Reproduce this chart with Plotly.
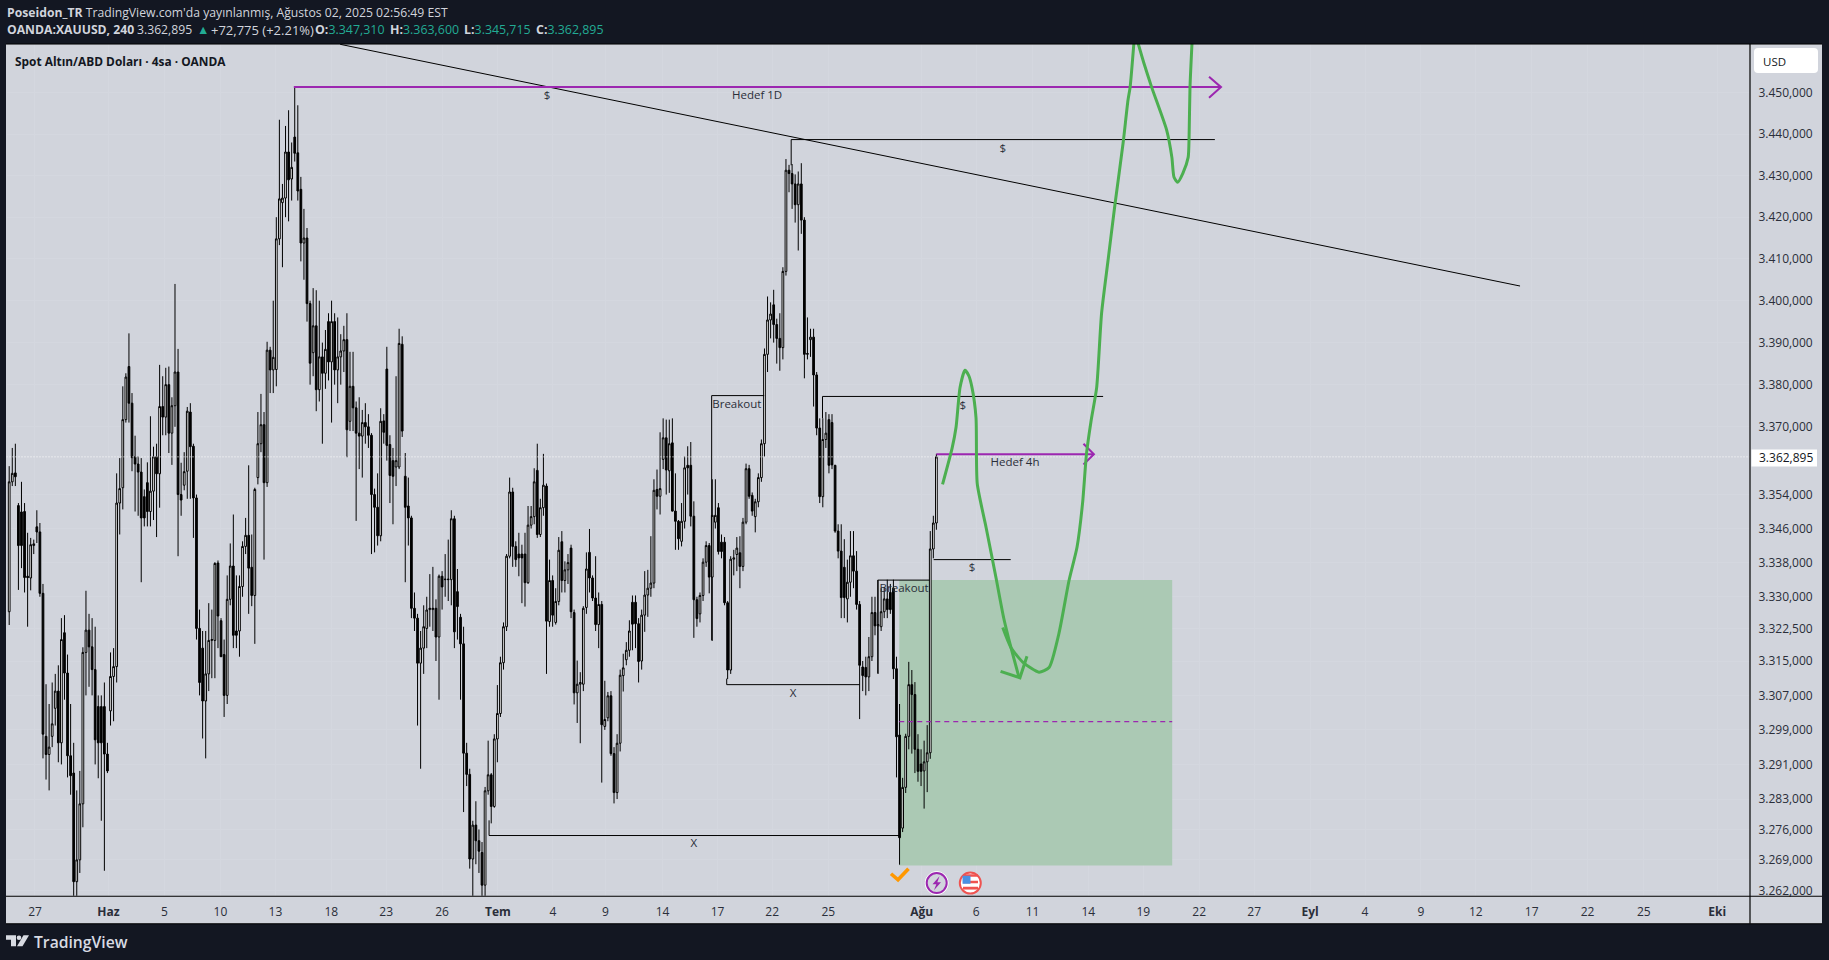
import plotly.graph_objects as go

W, H = 1829, 960
Y_FIX = 1.004

opens = [3326.5,3357,3359.1,3351.4,3349.9,3350,3334.8,3334.4,3342,3346.4,
3345.2,3330.8,3297.5,3293.3,3297.5,3304,3308,3296,3321.6,3312.2,
3293,3289,3264,3269,3281.9,3317,3322.2,3318.3,3313,3304.4,
3304.4,3304.4,3293.4,3303.4,3311.4,3313.7,3352,3355.6,3371.7,3384.3,
3375.6,3362.9,3361.2,3359.3,3353.5,3356.8,3350,3354.8,3362.9,3358.9,
3374.8,3372.3,3380,3368.5,3375,3383,3354,3356.2,3359.5,3373.5,
3365.4,3353.2,3322.6,3318,3305.7,3312,3319.8,3319.8,3337.9,3324.4,
3316.5,3307,3329.4,3337.2,3322,3322,3332.4,3341.8,3344.4,3336.9,
3330.3,3358,3366,3370.5,3356.8,3388.2,3383.5,3383.6,3414.8,3423.5,
3424.6,3435.7,3429.2,3439.3,3435.5,3426.7,3413.8,3415,3399.3,3387.6,
3394,3378.8,3386.6,3382.7,3395,3385.4,3395,3383.5,3386.6,3388,
3390.7,3371.3,3379.6,3374.5,3368.5,3367.8,3371,3370,3368,3354,
3351,3344.3,3371.4,3383.7,3365.8,3362,3360.5,3360.5,3389.6,3358.3,
3351.3,3348.5,3327.3,3325,3314.5,3318,3322.6,3327,3327,3327.3,
3320.6,3334.8,3334,3334,3334,3348.3,3331.2,3325.2,3319,3293.6,
3288.7,3269.2,3277,3273.4,3270.7,3263.2,3284.9,3288.6,3281.3,3296.9,
3302.8,3314.6,3323,3339.5,3354.6,3341.8,3340,3340,3340,3333.3,
3346.8,3348.8,3359.7,3344.6,3350.9,3356,3324.2,3333.8,3324,3328.9,
3342.9,3333.8,3336.3,3341.4,3326.3,3307.6,3309.6,3309.6,3327.5,3340.4,
3334.4,3329.7,3323.5,3328.2,3299.8,3301.8,3306.9,3293.5,3284.5,3295.9,
3311.6,3315.3,3317.5,3328.7,3328.7,3323.7,3315,3325.7,3330.4,3332,
3333.2,3355.2,3353.6,3362.3,3367.4,3359.6,3366.2,3350.1,3347.7,3343,
3347.7,3360.9,3360.9,3348.9,3329.3,3326,3330.3,3338.1,3342,3334.6,
3347.5,3350.9,3342.8,3342.8,3328.6,3312.9,3338.8,3339.9,3340.3,3337.1,
3347.5,3360.1,3353.8,3348.8,3352.3,3358,3366,3387.2,3395.4,3399,
3394.3,3391,3388.8,3407,3431.3,3430.5,3428,3423,3428,3419.3,
3387.2,3390.7,3391.3,3382.3,3369.7,3353.5,3367,3371.7,3371,3360.9,
3345.4,3340.7,3336.9,3329.5,3333.4,3339.6,3336,3328.2,3313.6,3313.5,
3311.3,3316,3326.3,3323.2,3323,3326.5,3329.5,3331,3332,3313.2,
3297.8,3276.3,3285.7,3297.5,3309.5,3307.2,3294.5,3291.1,3289.5,3291.6,3293.7,3341.2,3347.31]

highs = [3360.7,3365,3366,3352,3357,3352,3345,3343.8,3343.4,3350.3,
3347.3,3333,3309.6,3305,3310,3312,3314,3325,3325.7,3316.5,
3305,3296,3285,3289.5,3318.2,3331.4,3326,3325,3323,3307,
3307,3310,3296,3317,3318,3359,3362.6,3379.6,3382.7,3392.2,
3378,3367.9,3363,3362.6,3355.2,3361.6,3372.5,3365.3,3366,3384.7,
3382,3384,3384.3,3377,3404,3388.5,3361.5,3364,3374.7,3375.6,
3366,3354,3327,3322,3322,3328.5,3327,3338.1,3338.5,3325,
3320,3335,3342.5,3349.3,3335,3335,3343,3348.5,3360.9,3344.6,
3355.6,3373.5,3377.8,3373.5,3390.2,3389,3400,3420,3443.5,3428,
3442,3445.8,3438,3451.4,3447,3429.7,3422,3417.4,3400,3403,
3402.5,3400,3390,3393,3397,3400,3397,3396,3392,3394,
3397,3387.8,3387.8,3376,3377,3374,3375.6,3373,3368.5,3355.4,
3359,3374.4,3373,3389,3368,3365,3382,3393.3,3391.5,3363.8,
3358,3349,3331,3326,3322,3328,3330,3335.3,3337,3329.4,
3335.2,3336,3340,3343.4,3350.3,3349,3336.5,3326,3323,3296,
3290,3278,3282.5,3276,3273.1,3285.8,3296.5,3289,3298,3309.4,
3316,3324,3340,3358,3355.6,3343,3345,3342.2,3345,3351.3,
3351.3,3360.2,3366,3353,3363.6,3356.6,3338.7,3335,3332,3344,
3345.4,3338.3,3340,3342.2,3327,3315.1,3312.4,3327.8,3340.4,3345.9,
3335,3339.5,3331,3329,3310.4,3307.8,3308,3295,3298,3313,
3316.7,3319.4,3324.5,3330.3,3330.3,3325,3327,3336,3336.3,3344.2,
3357.6,3359.9,3368.7,3372,3371.7,3371.7,3372,3359,3348,3352,
3363,3365.4,3366.4,3352.4,3330,3331,3339,3343,3342.6,3357.6,
3357.6,3352,3344.6,3344,3329,3339.5,3341,3344,3344.2,3348.5,
3361.3,3361,3354.5,3353,3359,3367,3388.6,3401,3399.6,3402.6,
3395.7,3397,3408,3434,3432.6,3432.8,3430.3,3431,3433,3420,
3396,3393.3,3393.3,3383,3372,3372,3373.5,3373,3373,3361,
3347,3347,3343.5,3338.7,3345.4,3345.4,3340.7,3329,3315,3316,
3320.6,3330,3330,3333.9,3332,3332.3,3334,3333,3334,3316,
3305,3287.9,3298.1,3314.8,3312.9,3310.1,3298,3294.5,3296.5,3300.1,3345.4,3349,3363.6]

lows = [3323.4,3356,3356,3331.6,3336.7,3331,3323,3331.5,3340,3342.6,
3330,3292.4,3287.5,3285,3295,3300,3291.5,3291,3306,3288,
3284,3258,3258,3266,3276.5,3307,3309,3307,3291,3287.8,
3278,3266.5,3289,3300,3301,3310,3344.6,3350.5,3371,3371,
3359.5,3350,3349,3333.4,3346.5,3346.5,3346.5,3348,3344,3350.9,
3368,3368,3363.8,3361,3370,3339.5,3349,3355,3353,3353,
3343.8,3320,3307,3297,3292.4,3308,3311,3311,3318,3316,
3302,3305,3328,3318,3318,3316,3330,3340,3326,3327.8,
3319,3356.4,3364,3338.7,3355.8,3378,3378,3379.6,3413.3,3408,
3420,3419,3424,3433.4,3424,3409.4,3405,3395,3380,3382,
3373.7,3376,3366,3379,3381,3371,3380,3375.6,3380,3383,
3362.8,3369,3369,3347.8,3360,3358,3366,3365,3340,3340.4,
3342,3343,3366,3362,3352,3347,3356,3360,3367.6,3333.4,
3342,3325,3322,3300,3290,3312,3318,3323,3322,3315,
3306,3327,3330,3329,3328,3318,3320,3306,3280,3286,
3267,3259,3268,3266,3259,3259,3284,3277.4,3281,3291.5,
3302,3313,3322,3339,3337,3337,3334.8,3328.5,3327.7,3333,
3346,3347,3343.8,3344,3349,3312,3323,3323,3323.5,3328,
3331,3331,3333,3325,3304.9,3300.6,3295.9,3308,3326,3331,
3329,3322,3318,3286.8,3299,3301,3293,3282,3283,3294,
3307.9,3314,3316,3317.5,3318,3310,3313,3321.8,3325.3,3330,
3332,3350.5,3349.3,3360,3354,3354.4,3350,3341,3341,3341.8,
3346,3354,3346.5,3320.4,3323,3324,3329,3337,3330.8,3319.7,
3346,3339.9,3339,3328,3310.8,3312,3335,3336,3332,3336,
3347,3353,3349,3345.1,3351,3357,3363,3383,3391,3390,
3385,3383.3,3386,3406,3426,3422,3418.7,3412,3416,3381.5,
3386,3386.6,3374.8,3368,3352,3351,3365,3359,3360,3345,
3339,3325,3325,3324,3330,3332,3327,3301.5,3308,3307,
3308,3315,3321,3312,3322,3325,3325,3326,3310.8,3288,
3267.9,3275.4,3284.4,3294.5,3293.5,3289,3287,3286,3280.8,3284.6,3292.3,3339,3345.715]

closes = [3357,3359,3358.2,3342,3342,3334.5,3334.5,3342.2,3342.4,3345.2,
3330.8,3298,3293.3,3295,3300.4,3308,3296,3320,3312.2,3293,
3288.4,3264,3269,3281.9,3317,3322.2,3318.3,3313,3296.7,3296,
3296,3293.4,3289.5,3311.4,3313.7,3352,3355.4,3371.7,3381.8,3375.6,
3362.7,3361.2,3359.3,3348.5,3348.5,3350,3354.8,3362.9,3358.9,3374.8,
3372.3,3380,3368.5,3375,3383,3354,3352.7,3359.4,3373.7,3365.3,
3353.2,3322.6,3310,3305.7,3312,3319.8,3320,3337.8,3325.5,3316,
3307,3329.4,3337.2,3321,3321,3332.4,3341.8,3344.4,3336.7,3330.3,
3355.2,3366,3370.5,3356.8,3388.2,3383.5,3386.5,3414.8,3424.4,3424.6,
3435.7,3429,3432,3435.4,3426.3,3413.8,3415,3399.3,3385.1,3394,
3378.8,3386.6,3382.7,3388.4,3385.4,3395,3383.5,3386.6,3388,3390.7,
3369.3,3379.6,3374.5,3368.5,3367.8,3371,3370,3368,3354,3351,
3344.3,3371.3,3368.7,3365.6,3358.5,3358.3,3362,3389.8,3369,3351,
3348.5,3327.3,3325,3314.5,3318,3323,3326.9,3327.3,3327.3,3320.6,
3334.8,3332.3,3334.1,3334.1,3348.3,3321.8,3327.7,3319,3293.6,3288.7,
3269.2,3277,3273.4,3271,3263.2,3284.9,3288.6,3281.3,3296.9,3302.8,
3314.6,3323,3339.5,3354.6,3341.8,3338.7,3339.1,3339.1,3333.3,3346.8,
3348.8,3357,3344.6,3350.9,3356.2,3324.3,3333.8,3325.7,3328.9,3340.9,
3333.8,3336.3,3338,3326.5,3307.6,3309.6,3310,3327.3,3336.5,3334.4,
3329.7,3323.5,3328.2,3300.2,3301.4,3306.9,3293.5,3284.5,3295.9,3311.7,
3313.4,3317.5,3322,3323.6,3323.7,3314.9,3325.7,3330.4,3332,3333.2,
3355,3353.6,3355.4,3367.4,3359.8,3366,3350.1,3347.7,3343.6,3347.7,
3360.3,3360.3,3348.9,3329.3,3324.9,3330.3,3338.1,3342,3334.6,3349.1,
3349.1,3340.6,3340.6,3328.6,3312.9,3338.8,3339.1,3341.4,3337.1,3347.5,
3360.1,3353.6,3350.1,3352.3,3358,3366,3387.2,3395.4,3396.8,3394.3,
3391,3388.8,3407,3431.3,3430.5,3428,3423,3428,3419.3,3387.2,
3387.4,3391.3,3382.3,3369.7,3353.5,3367,3368.5,3360.9,3361,3345.4,
3340.7,3329.8,3329.8,3333.4,3339.6,3336,3328.2,3314,3311.6,3311.3,
3316,3326.3,3323.2,3323.5,3326.5,3329.5,3327,3327,3313.2,3297.4,
3274.1,3285.7,3297.5,3309.5,3307.2,3294.5,3289.4,3289.4,3291.6,3293.7,3341.2,3347.3,3362.895]

assert len(opens) == len(highs) == len(lows) == len(closes), (len(opens), len(highs), len(lows), len(closes))

x_tick_vals = [9.4,33.3,51.6,69.8,87.7,105.9,123.8,142,160.2,178.1,195.2,213.8,231.7,249.5,267.8,
               298.2,316,334.3,352.5,370.4,388.6,406.5,424.7,442.6,460.8,478.7,496.9,515.1,533.4,557.3]
x_tick_text = ["27","<b>Haz</b>","5","10","13","18","23","26","<b>Tem</b>","4","9","14","17","22","25",
               "<b>Ağu</b>","6","11","14","19","22","27","<b>Eyl</b>","4","9","12","17","22","25","<b>Eki</b>"]
y_tick_vals = [3450,3440,3430,3420,3410,3400,3390,3380,3370,3354,3346,3338,3330,3322.5,3315,3307,3299,3291,3283,3276,3269,3262]
y_tick_text = ["3.450,000","3.440,000","3.430,000","3.420,000","3.410,000","3.400,000","3.390,000","3.380,000",
               "3.370,000","3.354,000","3.346,000","3.338,000","3.330,000","3.322,500","3.315,000","3.307,000",
               "3.299,000","3.291,000","3.283,000","3.276,000","3.269,000","3.262,000"]

last_price = 3362.895
trend_x, trend_p = [108.8, 493.1], [3461.8, 3403.5]
target1_x, target1_p = [93.7, 395.7], [3451.4, 3451.4]
target1_head_x, target1_head_p = [391.8, 395.7, 391.8], [3453.9, 3451.4, 3448.8]
target4_x, target4_p = [303, 354.3], [3363.5, 3363.5]
target4_head_x, target4_head_p = [350.9, 354.3, 350.9], [3366, 3363.5, 3361.1]
level2_x, level2_p = [255.7, 255.7, 393.7], [3432.5, 3438.7, 3438.7]
level3_x, level3_p = [265.9, 265.9, 357.3], [3372, 3377.2, 3377.2]
breakout1_x, breakout1_p = [229.8, 229.8, 246.9], [3319.8, 3377.4, 3377.4]
breakout2_x, breakout2_p = [283.9, 283.9, 300.8], [3312.1, 3333.9, 3333.9]
low1_x, low1_p = [234.7, 234.7, 278], [3310.9, 3309.5, 3309.5]
low2_x, low2_p = [157.3, 157.3, 290.9], [3278.1, 3274.6, 3274.6]
level4_x, level4_p = [302.1, 327.2], [3338.7, 3338.7]
zone_x = [290.9, 379.8]
zone_p = [3267.7, 3333.9]
zone_mid = 3300.9

pen1_x = [305,308.1,309.4,310.7,312.3,313.5,314.6,315.9,316.3,319.2,322.4,324.9,327.3,329.9]
pen1_p = [3356.4,3364.9,3369.9,3379.3,3383.4,3382.2,3379.3,3372.2,3356.6,3346.2,3334.5,3325.1,3318.1,3311.2]
pen2_x = [323.9,330.2,332.5]
pen2_p = [3312.6,3311.1,3316.1]
pen3_x = [324.6,327.3,331.2,336.4,339.7,342.9,346.2,348.8,350.6,351.9,353.4,355.2,356.8,358.9,361.2,363.8,365.4,366.1,367.4]
pen3_p = [3322.8,3318.1,3314.7,3312.4,3313.5,3321.4,3333.8,3341.6,3351.9,3363.7,3371.5,3379.3,3397,3409.6,3423.3,3437.8,3448.2,3451.4,3462.8]
pen4_x = [368.4,370.6,373.1,378,379.7,380.4,381.6,383.3,385,385.3,385.6,386.3]
pen4_p = [3462.8,3457.2,3451.4,3441,3434.4,3429.6,3428.4,3430.6,3434.4,3439.3,3451.4,3462.8]

label_text = ["$","Hedef 1D","$","$","Breakout","X","X","Breakout","$","Hedef 4h"]
label_x = [176.2,244.6,324.6,311.6,238,256.3,224,292.5,314.6,328.6]
label_p = [3449.2,3449.2,3436.5,3375,3375.2,3307.4,3272.7,3331.9,3336.6,3361.4]

BG = "#131722"
PANEL = "#d1d4dc"
INK = "#131722"
PURPLE = "#9c27b0"
GREEN = "#4caf50"
FONT = "Open Sans"

def fx(px):
    return px / W

def fy(py):
    return 1 - py * Y_FIX / H

n = len(opens)
bar_index = list(range(304 - n, 304))

fig = go.Figure()
fig.add_trace(go.Candlestick(
    x=bar_index, open=opens, high=highs, low=lows, close=closes,
    increasing=dict(line=dict(color="#000000", width=1), fillcolor="#ffffff"),
    decreasing=dict(line=dict(color="#000000", width=1), fillcolor="#000000"),
    whiskerwidth=0, hoverinfo="skip", showlegend=False))

def line(x, y, color="#000000", width=1, dash=None, shape=None):
    fig.add_trace(go.Scatter(
        x=x, y=y, mode="lines", hoverinfo="skip", showlegend=False,
        line=dict(color=color, width=width, dash=dash, shape=shape, smoothing=0.6 if shape else None)))

line([0.12, 568], [last_price, last_price], color="#ffffff", width=1, dash="1px 2px")
line(trend_x, trend_p)
for lx, lp in [(level2_x, level2_p), (level3_x, level3_p), (breakout1_x, breakout1_p),
               (breakout2_x, breakout2_p), (low1_x, low1_p), (low2_x, low2_p), (level4_x, level4_p)]:
    line(lx, lp)
line(zone_x, [zone_mid, zone_mid], color=PURPLE, width=1.2, dash="5px 4px")
line(target1_x, target1_p, color=PURPLE, width=2)
line(target1_head_x, target1_head_p, color=PURPLE, width=2)
line(target4_x, target4_p, color=PURPLE, width=2)
line(target4_head_x, target4_head_p, color=PURPLE, width=2)
for gx, gp in [(pen1_x, pen1_p), (pen2_x, pen2_p), (pen3_x, pen3_p), (pen4_x, pen4_p)]:
    line(gx, gp, color=GREEN, width=3, shape="spline" if len(gx) > 3 else None)

fig.add_trace(go.Scatter(
    x=label_x, y=label_p, text=label_text, mode="text", hoverinfo="skip", showlegend=False,
    textfont=dict(family=FONT, size=11.5, color="#2a2e39"), textposition="middle center"))

shapes = [
    dict(type="rect", xref="paper", yref="paper", x0=fx(6), x1=fx(1822), y0=fy(923), y1=fy(44),
         fillcolor=PANEL, line_width=0, layer="below"),
    dict(type="rect", xref="x", yref="y", x0=zone_x[0], x1=zone_x[1], y0=zone_p[0], y1=zone_p[1],
         fillcolor="#abc9b4", line_width=0, layer="between"),
    dict(type="line", xref="paper", yref="paper", x0=fx(6), x1=fx(1822), y0=fy(895.5), y1=fy(895.5),
         line=dict(color="#000000", width=1.2)),
    dict(type="line", xref="paper", yref="paper", x0=fx(1750), x1=fx(1750), y0=fy(923), y1=fy(44),
         line=dict(color="#000000", width=1.2)),
    dict(type="line", xref="paper", yref="paper", x0=fx(6), x1=fx(1822), y0=fy(44), y1=fy(44),
         line=dict(color="#000000", width=1)),
    dict(type="line", xref="paper", yref="paper", x0=fx(6), x1=fx(1822), y0=fy(923), y1=fy(923),
         line=dict(color="#000000", width=1)),
    dict(type="rect", xref="paper", yref="paper", x0=fx(1751.5), x1=fx(1817), y0=fy(466), y1=fy(449),
         fillcolor="#ffffff", line_width=0),
]

def path(points, close=True):
    d = "M " + " L ".join(f"{fx(x):.5f},{fy(y):.5f}" for x, y in points)
    return d + (" Z" if close else "")

def rounded(x0, y0, x1, y1, r):
    return ("M %.5f,%.5f L %.5f,%.5f Q %.5f,%.5f %.5f,%.5f L %.5f,%.5f Q %.5f,%.5f %.5f,%.5f "
            "L %.5f,%.5f Q %.5f,%.5f %.5f,%.5f L %.5f,%.5f Q %.5f,%.5f %.5f,%.5f Z") % (
        fx(x0 + r), fy(y0), fx(x1 - r), fy(y0), fx(x1), fy(y0), fx(x1), fy(y0 + r),
        fx(x1), fy(y1 - r), fx(x1), fy(y1), fx(x1 - r), fy(y1),
        fx(x0 + r), fy(y1), fx(x0), fy(y1), fx(x0), fy(y1 - r),
        fx(x0), fy(y0 + r), fx(x0), fy(y0), fx(x0 + r), fy(y0))

shapes.append(dict(type="path", xref="paper", yref="paper", path=rounded(1754, 48, 1818, 73, 4),
                   fillcolor="#ffffff", line_width=0))
shapes.append(dict(type="path", xref="paper", yref="paper",
                   path=path([(891, 873), (898, 879), (908.5, 868)], close=False),
                   line=dict(color="#ff9800", width=3.6), fillcolor="rgba(0,0,0,0)"))

def circle(cx, cy, r, fill, color, w):
    return dict(type="circle", xref="paper", yref="paper", x0=fx(cx - r), x1=fx(cx + r), y0=fy(cy + r), y1=fy(cy - r),
                fillcolor=fill, line=dict(color=color, width=w))

shapes.append(circle(936.7, 882.3, 11.5, "#ffffff", "#ffffff", 1))
shapes.append(circle(936.7, 882.3, 10, PANEL, PURPLE, 2))
shapes.append(dict(type="path", xref="paper", yref="paper",
                   path=path([(939.5, 875.5), (932.5, 883.5), (936.3, 883.5), (934, 889.5), (941, 881.5), (937.3, 881.5)]),
                   fillcolor=PURPLE, line_width=0))
shapes.append(circle(970.3, 882.3, 10.5, "#ffffff", "#ef5350", 2))
for sy0, sy1 in [(873.5, 876), (880, 882.5), (886, 888.8)]:
    shapes.append(dict(type="rect", xref="paper", yref="paper", x0=fx(963), x1=fx(978),
                       y0=fy(sy1), y1=fy(sy0), fillcolor="#ef5350", line_width=0))
shapes.append(dict(type="rect", xref="paper", yref="paper", x0=fx(962.5), x1=fx(970.5),
                   y0=fy(883), y1=fy(875), fillcolor="#4a90e2", line_width=0))
LOGO = "#d8dbe2"
shapes.append(dict(type="path", xref="paper", yref="paper",
                   path=path([(6, 934.5), (16, 934.5), (16, 945.5), (11, 945.5), (11, 939), (6, 939)]),
                   fillcolor=LOGO, line_width=0))
shapes.append(circle(19, 937, 2.3, LOGO, LOGO, 0))
shapes.append(dict(type="path", xref="paper", yref="paper",
                   path=path([(23.5, 934.5), (29, 934.5), (22.5, 945.5), (17, 945.5)]),
                   fillcolor=LOGO, line_width=0))

def note(text, x, y, size, color, weight=None):
    font = dict(family=FONT, size=size, color=color)
    if weight:
        font["weight"] = weight
    return dict(text=text, xref="paper", yref="paper", x=fx(x), y=fy(y), xanchor="left", yanchor="middle",
                showarrow=False, font=font)

TEAL = "#22ab94"
LIGHT = "#d1d4dc"
def ohlc(letter, value):
    return "<b>%s:</b><span style='color:%s'>%s</span>" % (letter, TEAL, value)

annotations = [
    note("<b>Poseidon_TR</b> TradingView.com'da yayınlanmış, Ağustos 02, 2025 02:56:49 EST", 4.5, 12.5, 12.2, LIGHT),
    note("<b>OANDA:XAUUSD, 240</b>", 4.5, 29.5, 12.2, LIGHT),
    note("3.362,895", 135, 29.5, 12.2, LIGHT),
    note("▲", 195, 29.5, 12.5, TEAL),
    note("+72,775 (+2.21%)", 209, 29.5, 13, LIGHT),
    note(ohlc("O", "3.347,310"), 312.5, 29.5, 12.4, LIGHT),
    note(ohlc("H", "3.363,600"), 388, 29.5, 12.4, LIGHT),
    note(ohlc("L", "3.345,715"), 462, 29.5, 12.4, LIGHT),
    note(ohlc("C", "3.362,895"), 533.5, 29.5, 12.4, LIGHT),
    note("<b>Spot Altın/ABD Doları · 4sa · OANDA</b>", 12.5, 60.5, 11.9, INK),
    note("USD", 1761, 61, 11.5, INK),
    note("3.362,895", 1757, 457.5, 12, INK),
    note("TradingView", 32, 941, 15.7, LOGO, weight=600),
]

fig.update_layout(
    width=W, height=H, autosize=False,
    margin=dict(l=0, r=0, t=0, b=0, pad=0),
    paper_bgcolor=BG, plot_bgcolor=PANEL,
    showlegend=False, shapes=shapes, annotations=annotations,
    font=dict(family=FONT, size=12, color="#2a2e39"),
    hovermode=False, boxgap=0.2,
    xaxis=dict(domain=[fx(6.5), fx(1750)], range=[0.12, 568], tickmode="array",
               tickvals=x_tick_vals, ticktext=x_tick_text, showgrid=True, gridcolor="#d4d7df", gridwidth=1,
               zeroline=False, showline=False, ticks="outside", ticklen=5, tickcolor="rgba(0,0,0,0)",
               tickfont=dict(family=FONT, size=12, color="#2a2e39"), rangeslider=dict(visible=False), fixedrange=True),
    yaxis=dict(domain=[fy(895), fy(44)], type="log", range=[3.51332, 3.53931], side="right",
               tickmode="array", tickvals=y_tick_vals, ticktext=y_tick_text, showgrid=True, gridcolor="#d4d7df",
               gridwidth=1, zeroline=False, showline=False, ticks="outside", ticklen=5, tickcolor="rgba(0,0,0,0)",
               tickfont=dict(family=FONT, size=12, color="#2a2e39"), anchor="x", fixedrange=True),
)

fig.write_html("out.html", config=dict(displayModeBar=False),
               post_script="document.body.style.margin='0';document.body.style.overflow='hidden';")
